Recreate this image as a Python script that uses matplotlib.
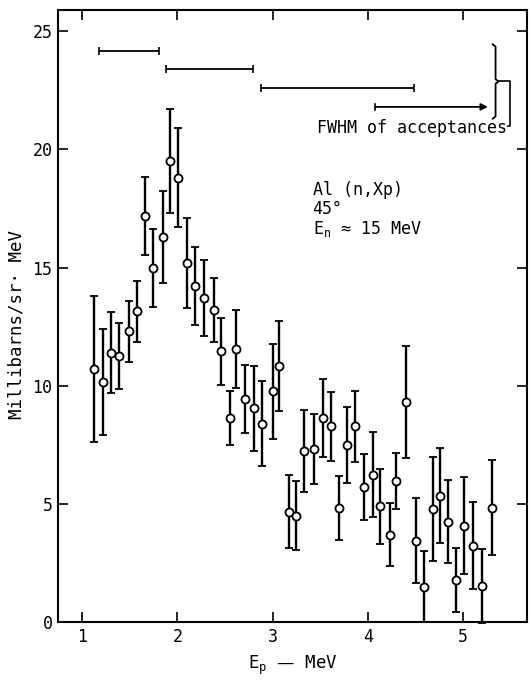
import matplotlib
matplotlib.use("Agg")
from matplotlib import pyplot as plt
import numpy as np

plt.rcParams['font.family'] = ['DejaVu Sans Mono', 'DejaVu Sans']

# proton energy (MeV), cross section (mb/sr MeV), error
ep = [1.13, 1.22, 1.30, 1.39, 1.49, 1.58, 1.66, 1.75, 1.85, 1.92,
      2.01, 2.10, 2.19, 2.28, 2.38, 2.46, 2.55, 2.62, 2.71, 2.80,
      2.89, 3.00, 3.07, 3.17, 3.25, 3.33, 3.43, 3.53, 3.61, 3.70,
      3.78, 3.87, 3.96, 4.05, 4.13, 4.23, 4.30, 4.40, 4.50, 4.59,
      4.68, 4.76, 4.84, 4.92, 5.01, 5.10, 5.20, 5.30]
sigma = [10.7, 10.15, 11.4, 11.24, 12.3, 13.15, 17.2, 15.0, 16.3, 19.5,
         18.8, 15.2, 14.2, 13.7, 13.2, 11.45, 8.63, 11.57, 9.44, 9.05,
         8.39, 9.76, 10.85, 4.67, 4.5, 7.25, 7.32, 8.63, 8.28, 4.82,
         7.5, 8.28, 5.73, 6.23, 4.89, 3.7, 5.97, 9.31, 3.43, 1.5,
         4.79, 5.35, 4.25, 1.78, 4.08, 3.23, 1.52, 4.84]
err = [3.1, 2.25, 1.7, 1.4, 1.3, 1.3, 1.65, 1.65, 1.95, 2.2,
       2.1, 1.9, 1.65, 1.6, 1.35, 1.4, 1.15, 1.65, 1.45, 1.8,
       1.8, 2.0, 1.9, 1.55, 1.45, 1.73, 1.5, 1.65, 1.45, 1.35,
       1.6, 1.5, 1.4, 1.8, 1.6, 1.35, 1.2, 2.35, 1.8, 1.5,
       2.2, 2.0, 1.75, 1.35, 2.05, 1.85, 1.55, 2.0]

# acceptance widths (FWHM)
acc_lo = [1.18, 1.88, 2.88]
acc_hi = [1.81, 2.79, 4.48]
acc_y = [24.17, 23.39, 22.6]
acc_arrow = [4.08, 5.26, 21.8]

brace_x = 5.34
brace_y = [21.3, 24.45]

fig = plt.figure(figsize=(5.32, 6.85), dpi=100)
ax = fig.add_axes([58/532, 1-622/685, 469/532, 612/685])

ax.errorbar(ep, sigma, yerr=err, fmt='o', color='black', mfc='white',
            mec='black', ms=5.8, mew=1.3, elinewidth=1.7, capsize=3,
            capthick=1.5, clip_on=False, zorder=3)

# acceptance bars
acc_lo = np.array(acc_lo)
acc_hi = np.array(acc_hi)
ax.errorbar((acc_lo+acc_hi)/2, acc_y, xerr=(acc_hi-acc_lo)/2, fmt='none',
            ecolor='black', elinewidth=1.3, capsize=3, capthick=1.2)
ax.annotate('', xy=(acc_arrow[1], acc_arrow[2]), xytext=(acc_arrow[0], acc_arrow[2]),
            arrowprops=dict(arrowstyle='-|>', color='black', lw=1.3,
                            mutation_scale=10, shrinkA=0, shrinkB=0))
ax.plot([acc_arrow[0]]*2, [acc_arrow[2]-0.12, acc_arrow[2]+0.12], color='black', lw=1.2)

# brace
dx = 0.03
dy = 0.1
ymid = (brace_y[0]+brace_y[1])/2
bx = [brace_x-dx, brace_x, brace_x, brace_x+dx, brace_x, brace_x, brace_x-dx]
by = [brace_y[1], brace_y[1]-dy, ymid+dy, ymid, ymid-dy, brace_y[0]+dy, brace_y[0]]
ax.plot(bx, by, color='black', lw=1.3)
ax.plot([brace_x+dx, 5.49, 5.49, 5.47], [ymid, ymid, 21.0, 21.0], color='black', lw=1.2)
ax.text(5.465, 20.68, 'FWHM of acceptances', ha='right', va='baseline', fontsize=12)

ax.text(3.42, 18.05, 'Al (n,Xp)', fontsize=12, va='baseline')
ax.text(3.42, 17.25, '45°', fontsize=12, va='baseline')
ax.text(3.42, 16.44, r'E$\mathregular{_n}$ ≈ 15 MeV', fontsize=12, va='baseline')

ax.set_xlim(0.748, 5.67)
ax.set_ylim(0, 25.9)
ax.set_xticks([1, 2, 3, 4, 5])
ax.set_yticks([0, 5, 10, 15, 20, 25])
ax.tick_params(direction='in', top=True, right=True, length=7, width=1.2,
               labelsize=12, pad=4)
for s in ax.spines.values():
    s.set_linewidth(1.5)

ax.set_xlabel(r'E$\mathregular{_p}$ — MeV', fontsize=12.5, labelpad=6)
fig.text(17/532, 1-324/685, 'Millibarns/sr· MeV', rotation=90,
         ha='center', va='center', fontsize=12.5)

fig.savefig('out.png', dpi=100)
